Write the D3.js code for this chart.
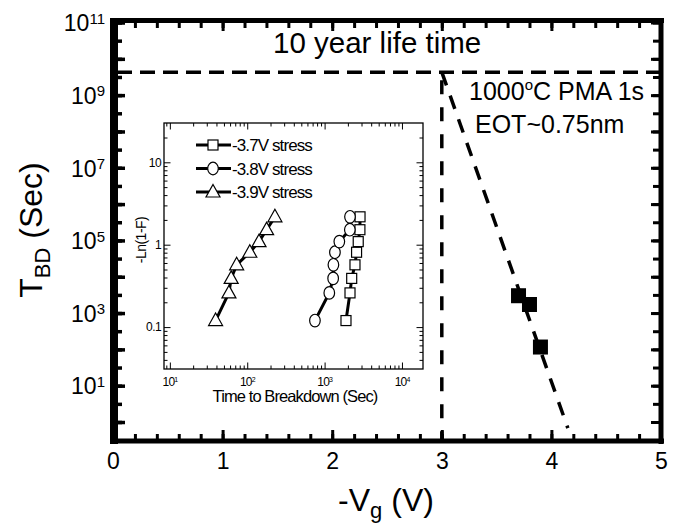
<!DOCTYPE html>
<html>
<head>
<meta charset="utf-8">
<script src="https://d3js.org/d3.v7.min.js"></script>
<style>
	body { margin: 0; background: #fff; }
	svg { display: block; font-family: "Liberation Sans", Arial, sans-serif; }
</style>
</head>
<body>
<script>
// main plot: time to breakdown vs. gate voltage
const stressV = [3.7, 3.8, 3.9];
const breakdownT = [3000, 1720, 116];
const tenYearT = 4.3e9;
const lifeV = 3;
const fitV = [3.0, 4.15];
const fitT = [4.3e9, 0.68];
const xTicks = [0, 1, 2, 3, 4, 5];
const yLabelExp = [1, 3, 5, 7, 9, 11];

// inset: weibull plot, -ln(1-F) vs time to breakdown
const lnF = [0.12, 0.26, 0.39, 0.57, 0.81, 1.09, 1.52, 2.18];
const t37 = [1890, 2130, 2240, 2470, 2590, 2720, 2860, 2870];
const t38 = [750, 1150, 1290, 1300, 1360, 1550, 2120, 2130];
const t39 = [39, 58, 62, 73, 108, 142, 178, 228];
const seriesNames = ['-3.7V stress', '-3.8V stress', '-3.9V stress'];
const seriesShapes = ['square', 'circle', 'triangle'];
const insetXTicks = [10, 100, 1000, 10000];
const insetXExp = ['1', '2', '3', '4'];
const insetYTicks = [0.1, 1, 10];
const insetYLabels = ['0.1', '1', '10'];

const svg = d3.select('body').append('svg')
	.attr('width', 675)
	.attr('height', 525);

const x = d3.scaleLinear().domain([0, 5]).range([113, 661]);
const y = d3.scaleLog().domain([0.3, 1.1e11]).range([441, 21]);

const addAxis = (axis, tx, ty, w) => {
	const g = svg.append('g')
		.attr('transform', `translate(${ tx },${ ty })`)
		.call(axis);
	g.select('.domain').remove();
	g.selectAll('.tick line').attr('stroke', '#000').attr('stroke-width', w);
	g.attr('font-family', null);
	return g;
};

// minor / major ticks, all pointing inwards
const xMinor = d3.range(0, 5.001, 0.2);
const yHalf = d3.range(0, 11.01, 0.5).map(e => Math.pow(10, e));
const yDec = d3.range(0, 12).map(e => Math.pow(10, e));

addAxis(d3.axisBottom(x).tickValues(xMinor).tickSize(-7).tickFormat(''), 0, 441, 3);
addAxis(d3.axisBottom(x).tickValues(xTicks).tickSize(-11).tickFormat(''), 0, 441, 3);
addAxis(d3.axisTop(x).tickValues(xMinor).tickSize(-7).tickFormat(''), 0, 21, 3);
addAxis(d3.axisTop(x).tickValues(xTicks).tickSize(-10).tickFormat(''), 0, 21, 3);
addAxis(d3.axisLeft(y).tickValues(yHalf).tickSize(-9).tickFormat(''), 113, 0, 3.5);
addAxis(d3.axisLeft(y).tickValues(yDec).tickSize(-12).tickFormat(''), 113, 0, 3.5);
addAxis(d3.axisRight(y).tickValues(yHalf).tickSize(-8).tickFormat(''), 661, 0, 3);
addAxis(d3.axisRight(y).tickValues(yDec).tickSize(-10).tickFormat(''), 661, 0, 3);

// frame
svg.append('line').attr('x1', 114).attr('x2', 114).attr('y1', 18).attr('y2', 444)
	.attr('stroke', '#000').attr('stroke-width', 8);
svg.append('line').attr('x1', 110).attr('x2', 664).attr('y1', 441).attr('y2', 441)
	.attr('stroke', '#000').attr('stroke-width', 5);
svg.append('line').attr('x1', 110).attr('x2', 664).attr('y1', 20.5).attr('y2', 20.5)
	.attr('stroke', '#000').attr('stroke-width', 5);
svg.append('line').attr('x1', 661).attr('x2', 661).attr('y1', 18).attr('y2', 444)
	.attr('stroke', '#000').attr('stroke-width', 5);

// tick labels
const xLab = addAxis(d3.axisBottom(x).tickValues(xTicks).tickSize(0).tickPadding(12)
	.tickFormat(d3.format('d')), 0, 441, 0);
xLab.attr('font-size', 23);
xLab.selectAll('text').attr('fill', '#000');

const yLab = addAxis(d3.axisLeft(y).tickValues(yLabelExp.map(e => Math.pow(10, e)))
	.tickSize(0).tickPadding(8).tickFormat(''), 113, 0, 0);
yLab.attr('font-size', 23);
yLab.selectAll('.tick text').each(function(d, i) {
	const t = d3.select(this).attr('fill', '#000').attr('dy', '0.36em');
	t.append('tspan').text('10');
	t.append('tspan').attr('dy', '-0.5em').attr('font-size', 15).text(yLabelExp[i]);
});

// axis titles
const yTitle = svg.append('text')
	.attr('transform', 'translate(42,230) rotate(-90)')
	.attr('text-anchor', 'middle')
	.attr('font-size', 32);
yTitle.append('tspan').text('T');
yTitle.append('tspan').attr('dy', 8).attr('font-size', 22).text('BD');
yTitle.append('tspan').attr('dy', -8).text(' (Sec)');

const xTitle = svg.append('text')
	.attr('x', 386).attr('y', 511)
	.attr('text-anchor', 'middle')
	.attr('font-size', 32);
xTitle.append('tspan').text('-V');
xTitle.append('tspan').attr('dy', 7).attr('font-size', 22).text('g');
xTitle.append('tspan').attr('dy', -7).text(' (V)');

// 10 year criterion and extrapolation
svg.append('line')
	.attr('x1', x(0) + 4).attr('x2', x(5) - 2)
	.attr('y1', y(tenYearT)).attr('y2', y(tenYearT))
	.attr('stroke', '#000').attr('stroke-width', 3.5)
	.attr('stroke-dasharray', '15,8');
svg.append('line')
	.attr('x1', x(lifeV)).attr('x2', x(lifeV))
	.attr('y1', y(tenYearT) + 8).attr('y2', y(0.3))
	.attr('stroke', '#000').attr('stroke-width', 3.5)
	.attr('stroke-dasharray', '14,13');
svg.append('path')
	.datum(fitV.map((v, i) => [v, fitT[i]]))
	.attr('d', d3.line().x(d => x(d[0])).y(d => y(d[1])))
	.attr('fill', 'none')
	.attr('stroke', '#000').attr('stroke-width', 3.5)
	.attr('stroke-dasharray', '14,11');

svg.selectAll('rect.pt')
	.data(stressV)
	.enter().append('rect')
	.classed('pt', true)
	.attr('x', d => x(d) - 7.5)
	.attr('y', (d, i) => y(breakdownT[i]) - 7.5)
	.attr('width', 15).attr('height', 15)
	.attr('fill', '#000');

svg.append('text')
	.attr('x', 273).attr('y', 53)
	.attr('font-size', 29.5)
	.text('10 year life time');
const pma = svg.append('text')
	.attr('x', 469).attr('y', 100)
	.attr('font-size', 25);
pma.append('tspan').text('1000');
pma.append('tspan').attr('dy', -10).attr('font-size', 15).text('o');
pma.append('tspan').attr('dy', 10).text('C PMA 1s');
svg.append('text')
	.attr('x', 475).attr('y', 133)
	.attr('font-size', 25)
	.text('EOT~0.75nm');

// ---- inset ----
const ix = d3.scaleLog().domain([8.4, 18700]).range([164, 423]);
const iy = d3.scaleLog().domain([0.031, 30]).range([369, 123]);

const minorOf = (dom, decades) => decades
	.flatMap(p => d3.range(2, 10).map(k => k * p))
	.filter(v => v > dom[0] && v < dom[1]);
const ixMinor = minorOf(ix.domain(), [1, 10, 100, 1000, 10000]);
const iyMinor = minorOf(iy.domain(), [0.01, 0.1, 1, 10]);

addAxis(d3.axisBottom(ix).tickValues(ixMinor).tickSize(-3.5).tickFormat(''), 0, 369, 1);
addAxis(d3.axisBottom(ix).tickValues(insetXTicks).tickSize(-6.5).tickFormat(''), 0, 369, 1);
addAxis(d3.axisTop(ix).tickValues(ixMinor).tickSize(-3.5).tickFormat(''), 0, 123, 1);
addAxis(d3.axisTop(ix).tickValues(insetXTicks).tickSize(-6.5).tickFormat(''), 0, 123, 1);
addAxis(d3.axisLeft(iy).tickValues(iyMinor).tickSize(-3.5).tickFormat(''), 164, 0, 1);
addAxis(d3.axisLeft(iy).tickValues(insetYTicks).tickSize(-6.5).tickFormat(''), 164, 0, 1);
addAxis(d3.axisRight(iy).tickValues(iyMinor).tickSize(-3.5).tickFormat(''), 423, 0, 1);
addAxis(d3.axisRight(iy).tickValues(insetYTicks).tickSize(-6.5).tickFormat(''), 423, 0, 1);

svg.append('rect')
	.attr('x', 164).attr('y', 123)
	.attr('width', 423 - 164).attr('height', 369 - 123)
	.attr('fill', 'none').attr('stroke', '#000').attr('stroke-width', 1.3);

const ixLab = addAxis(d3.axisBottom(ix).tickValues(insetXTicks).tickSize(0).tickPadding(8).tickFormat(''), 0, 369, 0);
ixLab.attr('font-size', 12);
ixLab.selectAll('.tick text').each(function(d, i) {
	const t = d3.select(this).attr('fill', '#000');
	t.append('tspan').attr('letter-spacing', -0.8).text('10');
	t.append('tspan').attr('dy', '-0.45em').attr('font-size', 7).text(insetXExp[i]);
});
const iyLab = addAxis(d3.axisLeft(iy).tickValues(insetYTicks).tickSize(0).tickPadding(3)
	.tickFormat((d, i) => insetYLabels[i]), 164, 0, 0);
iyLab.attr('font-size', 12).attr('letter-spacing', -0.6);
iyLab.selectAll('text').attr('fill', '#000');

svg.append('text')
	.attr('transform', 'translate(146,240) rotate(-90)')
	.attr('text-anchor', 'middle')
	.attr('font-size', 14)
	.attr('letter-spacing', -0.5)
	.text('-Ln(1-F)');
svg.append('text')
	.attr('x', 295).attr('y', 402)
	.attr('text-anchor', 'middle')
	.attr('font-size', 16.5)
	.attr('letter-spacing', -0.9)
	.text('Time to Breakdown (Sec)');

const drawSymbol = (g, shape, cx, cy) => {
	if (shape === 'square') {
		g.append('rect').attr('x', cx - 5).attr('y', cy - 5).attr('width', 10).attr('height', 10);
	} else if (shape === 'circle') {
		g.append('ellipse').attr('cx', cx).attr('cy', cy).attr('rx', 5.3).attr('ry', 6.3);
	} else {
		g.append('path').attr('d', `M${ cx },${ cy - 7.5}L${ cx + 7 },${ cy + 5}L${ cx - 7 },${ cy + 5}Z`);
	}
};

const insetSeries = [t37, t38, t39];
insetSeries.forEach((ts, s) => {
	const pts = ts.map((t, i) => [t, lnF[i]]);
	svg.append('path')
		.datum(pts)
		.attr('d', d3.line().x(d => ix(d[0])).y(d => iy(d[1])))
		.attr('fill', 'none')
		.attr('stroke', '#000').attr('stroke-width', 3);
	const g = svg.append('g')
		.attr('fill', '#fff').attr('stroke', '#000').attr('stroke-width', 1.2);
	pts.forEach(d => drawSymbol(g, seriesShapes[s], ix(d[0]), iy(d[1])));
});

// legend
seriesNames.forEach((name, i) => {
	const ly = 145 + i * 23.5;
	svg.append('line')
		.attr('x1', 196).attr('x2', 231).attr('y1', ly).attr('y2', ly)
		.attr('stroke', '#000').attr('stroke-width', 3.2);
	const g = svg.append('g')
		.attr('fill', '#fff').attr('stroke', '#000').attr('stroke-width', 1.2);
	drawSymbol(g, seriesShapes[i], 213, ly);
	svg.append('text')
		.attr('x', 232).attr('y', ly + 6)
		.attr('font-size', 17)
		.attr('letter-spacing', -0.9)
		.text(name);
});
</script>
</body>
</html>
